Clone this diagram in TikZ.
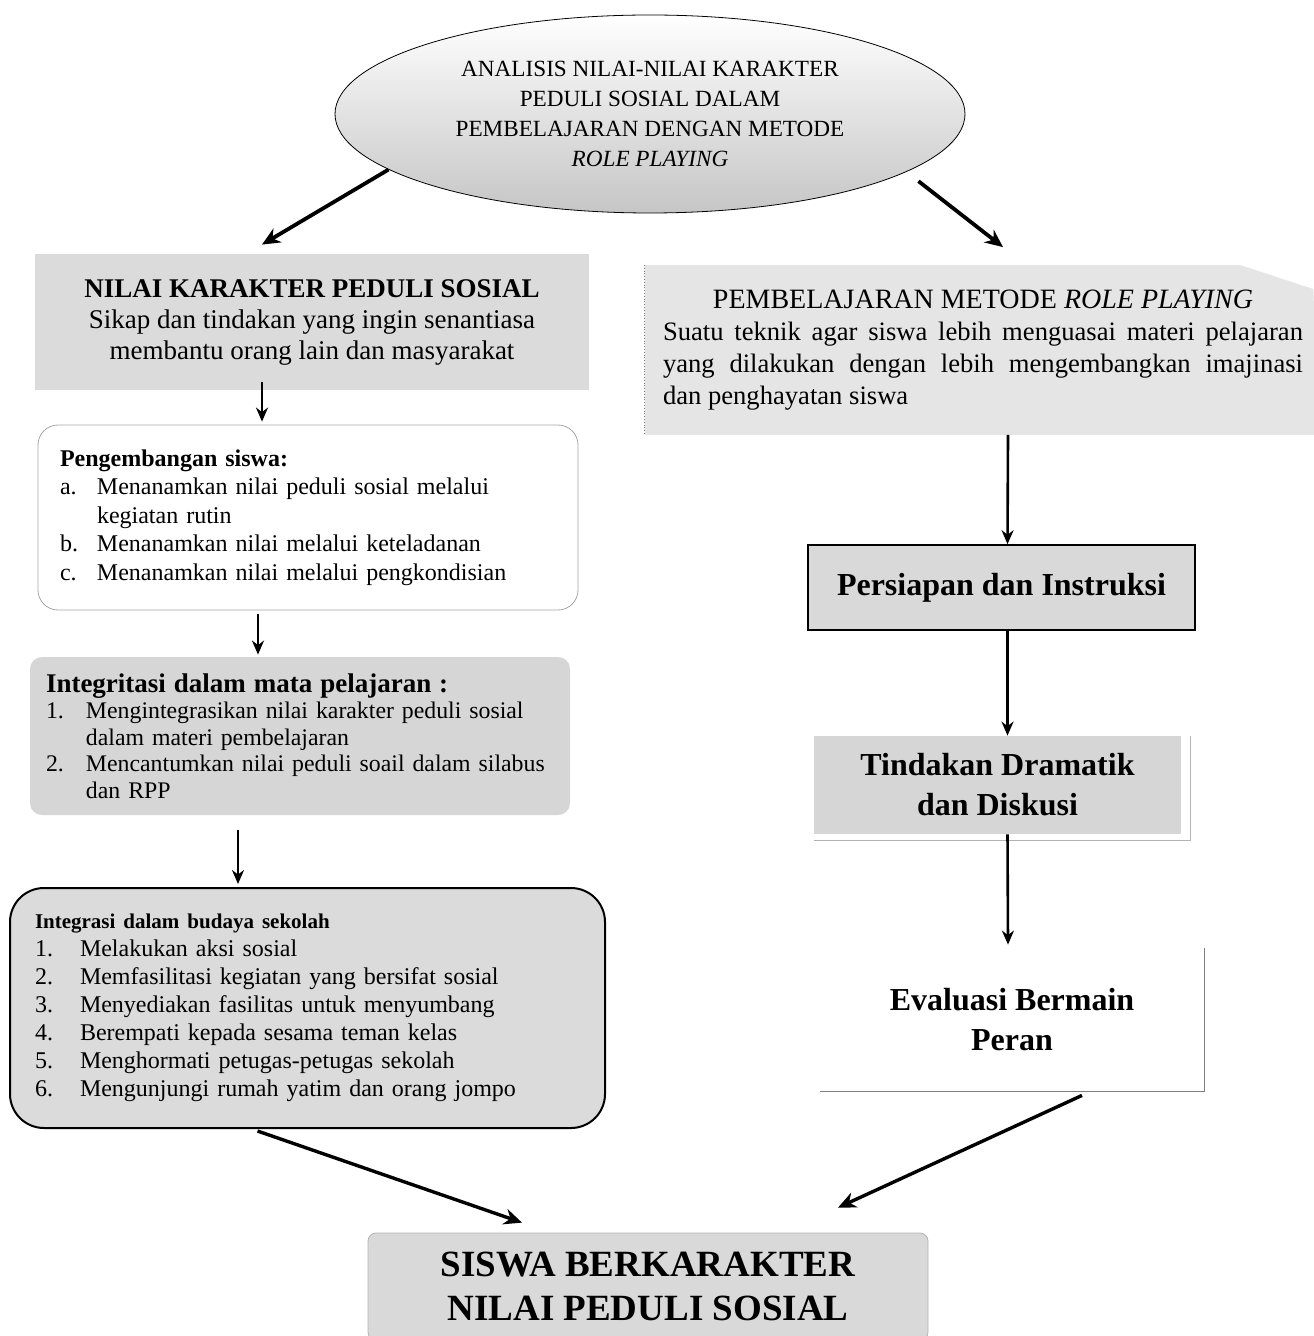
\documentclass[tikz,border=0pt]{standalone}
\usepackage{fontspec}
\setmainfont{Liberation Serif}
\usetikzlibrary{shapes.geometric,arrows.meta,backgrounds}
\newcommand{\numlbl}[2]{\makebox[#1][l]{#2}}

\begin{document}
\begin{tikzpicture}[x=0.5pt,y=-0.5pt]
\tikzset{
  shadebox/.style={fill=gray!28},
  arr/.style={-{Stealth[length=7pt,width=6pt]},line width=1.3pt},
  bigarr/.style={-{Stealth[length=9pt,width=8pt]},line width=1.9pt},
  stepbox/.style={font=\bfseries\fontsize{16}{20}\selectfont,align=center},
  listbox/.style={align=left,inner sep=0pt}
}
\useasboundingbox (0,0) rectangle (1313,1336);

% top
\node[ellipse,draw,thin,top color=white,bottom color=gray!45,minimum width=315pt,minimum height=99pt,
      align=center,font=\fontsize{11.6}{15}\selectfont] (analisis) at (650,114)
  {ANALISIS NILAI-NILAI KARAKTER\\PEDULI SOSIAL DALAM\\PEMBELAJARAN DENGAN METODE\\\textit{ROLE PLAYING}};

% left column
\node[shadebox,minimum width=277pt,minimum height=68pt,align=center,
      font=\fontsize{13.5}{15.5}\selectfont] (nilai) at (312,322)
  {\textbf{NILAI KARAKTER PEDULI SOSIAL}\\Sikap dan tindakan yang ingin senantiasa\\membantu orang lain dan masyarakat};

\node[draw=gray!70,thin,fill=white,rounded corners=10pt,minimum width=270pt,minimum height=92.5pt,
      text width=248pt,inner xsep=11pt,inner ysep=9pt,align=left,font=\fontsize{12}{14.25}\selectfont] (pengembangan) at (308,517.5)
  {\textbf{Pengembangan siswa:}\\
   \numlbl{18.5pt}{a.}Menanamkan nilai peduli sosial melalui\\
   \numlbl{18.5pt}{}kegiatan rutin\\
   \numlbl{18.5pt}{b.}Menanamkan nilai melalui keteladanan\\
   \numlbl{18.5pt}{c.}Menanamkan nilai melalui pengkondisian};

\node[fill=gray!32,rounded corners=6pt,minimum width=270pt,minimum height=79pt,
      text width=254pt,inner xsep=8pt,inner ysep=5pt,align=left,font=\fontsize{11.9}{13.2}\selectfont] (integritasi) at (300,736)
  {{\bfseries\fontsize{13.5}{13.2}\selectfont Integritasi dalam mata pelajaran :}\\
   \numlbl{20pt}{1.}Mengintegrasikan nilai karakter peduli sosial\\
   \numlbl{20pt}{}dalam materi pembelajaran\\
   \numlbl{20pt}{2.}Mencantumkan nilai peduli soail dalam silabus\\
   \numlbl{20pt}{}dan RPP};

\node[draw,line width=1pt,fill=gray!28,rounded corners=17pt,minimum width=297.5pt,minimum height=120pt,
      text width=272.5pt,inner xsep=12.5pt,inner ysep=9pt,align=left,font=\fontsize{12}{14}\selectfont] (budaya) at (307.5,1008)
  {{\bfseries\fontsize{10.5}{14}\selectfont Integrasi dalam budaya sekolah}\\
   \numlbl{22.5pt}{1.}Melakukan aksi sosial\\
   \numlbl{22.5pt}{2.}Memfasilitasi kegiatan yang bersifat sosial\\
   \numlbl{22.5pt}{3.}Menyediakan fasilitas untuk menyumbang\\
   \numlbl{22.5pt}{4.}Berempati kepada sesama teman kelas\\
   \numlbl{22.5pt}{5.}Menghormati petugas-petugas sekolah\\
   \numlbl{22.5pt}{6.}Mengunjungi rumah yatim dan orang jompo};

% right column
\node[minimum width=334pt,minimum height=84.5pt,text width=320pt,inner sep=0pt,align=justify,
      font=\fontsize{13.3}{16}\selectfont] (pembelajaran) at (983,350)
  {{\centering\fontsize{14}{17}\selectfont PEMBELAJARAN METODE \textit{ROLE PLAYING}\par}
   \noindent Suatu teknik agar siswa lebih menguasai materi pelajaran\linebreak
   yang dilakukan dengan lebih mengembangkan imajinasi\linebreak
   dan penghayatan siswa};
\begin{scope}[on background layer]
  \fill[gray!20] ([xshift=-2pt]pembelajaran.north west) -- ([xshift=-38.5pt]pembelajaran.north east)
    -- ([xshift=-2pt,yshift=-12pt]pembelajaran.north east) -- (pembelajaran.south east) -- ([xshift=-2pt]pembelajaran.south west) -- cycle;
  \draw[gray,densely dotted] ([xshift=-2pt]pembelajaran.north west) -- ([xshift=-2pt]pembelajaran.south west);
\end{scope}

\node[stepbox,draw,line width=0.8pt,fill=gray!30,minimum width=193.5pt,minimum height=42.5pt] (persiapan) at (1001.5,587.5)
  {Persiapan dan Instruksi};
\node[stepbox,fill=gray!32,minimum width=183.5pt,minimum height=49pt] (tindakan) at (997.5,785)
  {Tindakan Dramatik\\dan Diskusi};
\draw[gray!60,thin] ([xshift=4.5pt]tindakan.north east) -- ([xshift=4.5pt,yshift=-3pt]tindakan.south east)
  -- ([yshift=-3pt]tindakan.south west);
\node[stepbox,fill=white,minimum width=192pt,minimum height=71.5pt] (evaluasi) at (1012,1019.5)
  {Evaluasi Bermain\\Peran};
\draw[gray,thin] (evaluasi.north east) -- (evaluasi.south east) -- (evaluasi.south west);

% bottom
\node[draw=gray!60,thin,fill=gray!30,rounded corners=4pt,minimum width=280pt,minimum height=53.5pt,
      align=center,font=\bfseries\fontsize{18.5}{22}\selectfont] (siswa) at (648,1286.5)
  {SISWA BERKARAKTER\\NILAI PEDULI SOSIAL};

% connectors
\draw[bigarr] (analisis.192) -- ([xshift=-25pt,yshift=4.5pt]nilai.north);
\draw[bigarr] ([yshift=-7.5pt]analisis.349) -- ([xshift=10pt,yshift=9pt]pembelajaran.north);
\draw[arr] ([xshift=-25pt,yshift=4pt]nilai.south) -- ([xshift=-23pt,yshift=1.5pt]pengembangan.north);
\draw[arr] ([xshift=-25pt,yshift=-2pt]pengembangan.south) -- ([xshift=-21pt,yshift=1pt]integritasi.north);
\draw[arr] ([xshift=-31pt,yshift=-7.5pt]integritasi.south) -- ([xshift=-34.75pt,yshift=1.5pt]budaya.north);
\draw[arr] ([xshift=12.5pt]pembelajaran.south) -- ([xshift=3pt]persiapan.north);
\draw[arr] ([xshift=3pt]persiapan.south) -- ([xshift=5pt]tindakan.north);
\draw[arr] ([xshift=5pt]tindakan.south) -- ([xshift=-2pt,yshift=1.5pt]evaluasi.north);
\draw[bigarr,line width=1.7pt] ([xshift=-25pt,yshift=-1pt]budaya.south) -- ([xshift=-63pt,yshift=5pt]siswa.north);
\draw[bigarr,line width=1.7pt] ([xshift=35pt,yshift=-2pt]evaluasi.south) -- ([xshift=95pt,yshift=12.5pt]siswa.north);
\end{tikzpicture}
\end{document}
